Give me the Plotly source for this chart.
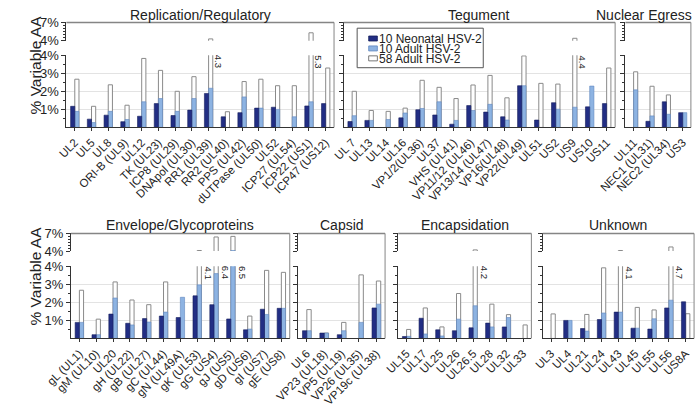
import plotly.graph_objects as go

W, H = 696, 412

# ---------------- data ----------------
rep_cats = ["UL2", "UL5", "UL8", "ORI-B (UL9)", "UL12", "TK (UL23)", "ICP8 (UL29)", "DNApol (UL30)",
            "RR1 (UL39)", "RR2 (UL40)", "PPS (UL42)", "dUTPase (UL50)", "UL52", "ICP27 (UL54)",
            "ICP22 (US1)", "ICP47 (US12)"]
rep_neo10 = [1.17, 0.46, 0.68, 0.32, 0.62, 1.32, 0.66, 0.96, 1.88, 0.59, 0.82, 1.07, 1.12, None, 1.19, 1.32]
rep_adult10 = [0.89, 0.27, 0.89, 0.44, 1.42, 1.60, 0.89, 1.60, 2.17, None, 1.69, 1.07, 1.00, 0.59, 1.42, None]
rep_adult58 = [2.67, 1.17, 2.36, 1.23, 3.82, 3.16, 2.00, 2.81, 4.3, 0.87, 2.54, 2.67, 2.31, 2.31, 5.3, 3.29]

teg_cats = ["UL 7", "UL13", "UL14", "UL16", "VP1/2(UL36)", "UL37", "VHS (UL41)", "VP11/12 (UL46)",
            "VP13/14 (UL47)", "VP16(UL48)", "VP22(UL49)", "UL51", "US2", "US9", "US10", "US11"]
teg_neo10 = [0.33, 0.39, None, 0.53, 0.98, 0.69, 0.18, 1.21, 0.85, 0.59, 2.31, 0.41, 1.37, None, 1.14, 1.32]
teg_adult10 = [0.65, 0.39, 0.44, 0.80, 1.05, 1.42, 0.39, 0.94, 1.28, 0.41, 2.31, None, 1.01, 1.12, 2.29, None]
teg_adult58 = [2.00, 0.94, 0.89, 1.07, 2.61, 2.22, 1.60, 2.35, 2.88, 1.64, 3.96, 2.44, 2.40, 4.4, None, 3.29]

ne_cats = ["UL11", "NEC1 (UL31)", "NEC2 (UL34)", "US3"]
ne_neo10 = [None, 0.34, 1.42, 0.82]
ne_adult10 = [2.08, 0.64, 0.73, 0.82]
ne_adult58 = [3.08, 2.28, 1.80, None]

env_cats = ["gL (UL1)", "gM (UL10)", "UL20", "gH (UL22)", "gB (UL27)", "gC (UL44)", "gN (UL49A)",
            "gK (UL53)", "gG (US4)", "gJ (US5)", "gD (US6)", "gI (US7)", "gE (US8)"]
env_neo10 = [0.89, 0.21, 1.35, 0.84, 1.10, 1.24, 1.16, 2.36, 1.87, 1.08, 0.48, 1.62, 1.67]
env_adult10 = [0.89, 0.21, 2.24, 0.75, 0.91, 1.46, 2.28, 2.97, 3.59, 4.1, 0.52, 1.33, 1.67]
env_adult58 = [2.67, 1.07, 3.13, 2.13, 1.87, 3.13, None, 4.1, 6.4, 6.5, 1.24, 3.77, 3.66]

cap_cats = ["UL6", "VP23 (UL18)", "VP5 (UL19)", "VP26 (UL35)", "VP19c (UL38)"]
cap_neo10 = [0.43, 0.30, 0.21, None, 1.69]
cap_adult10 = [0.43, 0.30, 0.43, 0.89, 1.90]
cap_adult58 = [1.60, 0.30, 0.89, 3.52, 3.18]

enc_cats = ["UL15", "UL17", "UL25", "UL26", "UL26.5", "UL28", "UL32", "UL33"]
enc_neo10 = [0.11, 1.12, 0.48, 0.43, 0.59, 0.85, 0.64, None]
enc_adult10 = [0.12, 0.25, 0.14, 1.07, 1.81, 0.64, 1.16, None]
enc_adult58 = [0.50, 1.69, 0.64, 2.49, 4.2, 1.90, 1.32, 0.75]

unk_cats = ["UL3", "UL4", "UL21", "UL24", "UL43", "UL45", "UL55", "UL56", "US8A"]
unk_neo10 = [None, 1.00, 0.55, 1.05, 1.46, 0.57, 0.52, 1.69, 2.03]
unk_adult10 = [None, 1.00, 0.41, 1.41, 1.46, 0.57, 1.09, 2.12, None]
unk_adult58 = [1.36, None, 1.33, 3.91, 4.1, 1.72, 1.58, 4.7, 1.37]

series_names = ["10 Neonatal HSV-2", "10 Adult HSV-2", "58 Adult HSV-2"]
y_ticks_low = [1, 2, 3, 4]
y_ticks_up = [4, 7]
BREAK = 4

# ---------------- styling ----------------
FONT = "Liberation Sans, Arial, sans-serif"
TXT = "#222222"
NAVY = "#222e84"
NAVY_LINE = "#151f5c"
LIGHT = "#8db3e2"
LIGHT_LINE = "#5f86bf"
WHITE_LINE = "#8a8a8a"
GRID = "#e3e3e3"
AXIS = "#333333"
FRAME = "#858585"
BW = 0.25

rows = [
    dict(top=16, up4=35, lo4=50, zero=125, title_y=8, lab_dx=0.56),
    dict(top=235, up4=253.3, lo4=269, zero=344, title_y=226, lab_dx=0.65),
]

panels = [
    dict(title="Replication/Regulatory", cats=rep_cats, neo=rep_neo10, a10=rep_adult10, a58=rep_adult58, row=0, x0=42, x1=320, first=True),
    dict(title="Tegument", cats=teg_cats, neo=teg_neo10, a10=teg_adult10, a58=teg_adult58, row=0, x0=330, x1=612, first=False),
    dict(title="Nuclear Egress", cats=ne_cats, neo=ne_neo10, a10=ne_adult10, a58=ne_adult58, row=0, x0=622.7, x1=690.7, first=False, title_right=694),
    dict(title="Envelope/Glycoproteins", cats=env_cats, neo=env_neo10, a10=env_adult10, a58=env_adult58, row=1, x0=46.7, x1=274, first=True),
    dict(title="Capsid", cats=cap_cats, neo=cap_neo10, a10=cap_adult10, a58=cap_adult58, row=1, x0=282.7, x1=373, first=False),
    dict(title="Encapsidation", cats=enc_cats, neo=enc_neo10, a10=enc_adult10, a58=enc_adult58, row=1, x0=386.7, x1=525, first=False),
    dict(title="Unknown", cats=unk_cats, neo=unk_neo10, a10=unk_adult10, a58=unk_adult58, row=1, x0=536.7, x1=694, first=False),
]


def px(v):
    return v / W


def py(v):
    return 1 - v / H


def above_break(vals):
    return [v if (v is not None and v > BREAK) else None for v in vals]


fig = go.Figure()
layout = {}
annotations = []
shapes = []

for i, p in enumerate(panels):
    r = rows[p["row"]]
    xn = i + 1
    yl = 2 * i + 1
    yu = 2 * i + 2
    xs = "x" if xn == 1 else f"x{xn}"
    yls = "y" if yl == 1 else f"y{yl}"
    yus = f"y{yu}"
    xkey = "xaxis" if xn == 1 else f"xaxis{xn}"
    ylkey = "yaxis" if yl == 1 else f"yaxis{yl}"
    yukey = f"yaxis{yu}"
    n = len(p["cats"])
    xpos = list(range(n))

    for ys, filt in ((yls, lambda v: v), (yus, above_break)):
        fig.add_bar(x=xpos, y=filt(p["a58"]), xaxis=xs, yaxis=ys, offset=0, width=BW,
                    marker=dict(color="white", line=dict(color=WHITE_LINE, width=1)),
                    name=series_names[2], showlegend=False, hoverinfo="skip")
        fig.add_bar(x=xpos, y=filt(p["a10"]), xaxis=xs, yaxis=ys, offset=0, width=BW,
                    marker=dict(color=LIGHT, line=dict(color=LIGHT_LINE, width=0.6)),
                    name=series_names[1], showlegend=False, hoverinfo="skip")
        fig.add_bar(x=xpos, y=filt(p["neo"]), xaxis=xs, yaxis=ys, offset=-BW, width=BW,
                    marker=dict(color=NAVY, line=dict(color=NAVY_LINE, width=0.6)),
                    name=series_names[0], showlegend=False, hoverinfo="skip")

    layout[xkey] = dict(domain=[px(p["x0"]), px(p["x1"])], anchor=yls, range=[-0.5, n - 0.5],
                        tickmode="array", tickvals=xpos, ticktext=p["cats"], tickangle=-45,
                        ticks="outside", ticklen=3, tickcolor=AXIS, showline=True, linecolor=AXIS,
                        linewidth=1, showgrid=False, zeroline=False, fixedrange=True,
                        tickfont=dict(family=FONT, size=11.5, color=TXT))
    layout[ylkey] = dict(domain=[py(r["zero"]), py(r["lo4"])], anchor=xs, range=[0, 4],
                         tickmode="array", tickvals=y_ticks_low, ticktext=[f"{v}%" for v in y_ticks_low],
                         showticklabels=p["first"], ticks="outside", ticklen=4, tickcolor=AXIS,
                         minor=dict(tickmode="array", tickvals=[0.5, 1.5, 2.5, 3.5], ticks="outside",
                                    ticklen=2, tickcolor=AXIS, showgrid=False),
                         showline=True, linecolor=AXIS, linewidth=1, showgrid=True, gridcolor=GRID,
                         gridwidth=1, zeroline=False, fixedrange=True,
                         tickfont=dict(family=FONT, size=13, color=TXT))
    layout[yukey] = dict(domain=[py(r["up4"]), py(r["top"])], anchor=xs, range=[4, 7],
                         tickmode="array", tickvals=y_ticks_up, ticktext=[f"{v}%" for v in y_ticks_up],
                         showticklabels=p["first"], ticks="outside", ticklen=4, tickcolor=AXIS,
                         minor=dict(tickmode="array", tickvals=[4.5, 5, 5.5, 6, 6.5], ticks="outside",
                                    ticklen=2, tickcolor=AXIS, showgrid=False),
                         showline=True, linecolor=AXIS, linewidth=1, showgrid=True, gridcolor=GRID,
                         gridwidth=1, zeroline=False, fixedrange=True,
                         tickfont=dict(family=FONT, size=13, color=TXT))

    # frame: top and right borders
    shapes.append(dict(type="line", xref="paper", yref="paper", x0=px(p["x0"]), x1=px(p["x1"]),
                       y0=py(r["top"]), y1=py(r["top"]), line=dict(color=FRAME, width=1.5)))
    shapes.append(dict(type="line", xref="paper", yref="paper", x0=px(p["x1"]), x1=px(p["x1"]),
                       y0=py(r["top"]), y1=py(r["zero"]), line=dict(color=FRAME, width=1)))

    # panel title
    if "title_right" in p:
        annotations.append(dict(text=p["title"], xref="paper", yref="paper", x=px(p["title_right"]),
                                y=py(r["title_y"]), xanchor="right", yanchor="middle", showarrow=False,
                                font=dict(family=FONT, size=14, color=TXT)))
    else:
        annotations.append(dict(text=p["title"], xref="paper", yref="paper",
                                x=px((p["x0"] + p["x1"]) / 2), y=py(r["title_y"]),
                                xanchor="center", yanchor="middle", showarrow=False,
                                font=dict(family=FONT, size=14, color=TXT)))

    # value labels for broken bars
    for k, v in enumerate(p["a58"]):
        if v is not None and v > BREAK:
            annotations.append(dict(text=f"{v:.1f}", xref=xs, yref=yls, x=k + r["lab_dx"], y=BREAK,
                                    xanchor="center", yanchor="top", yshift=1, textangle=90,
                                    showarrow=False, borderpad=0,
                                    font=dict(family=FONT, size=9.5, color=TXT)))

    if p["first"]:
        annotations.append(dict(text="% Variable AA", xref="paper", yref="paper", x=px(9.5),
                                y=py((r["top"] + r["zero"]) / 2 - 10), xanchor="center", yanchor="middle",
                                textangle=-90, showarrow=False,
                                font=dict(family=FONT, size=15.5, color=TXT)))

# ---------------- legend (drawn manually) ----------------
lx0, lx1, ly0, ly1 = 344, 475, 22, 63
shapes.append(dict(type="rect", xref="paper", yref="paper", x0=px(lx0), x1=px(lx1), y0=py(ly0), y1=py(ly1),
                   line=dict(color="#555555", width=1), fillcolor="white", layer="above"))
leg_colors = [(NAVY, NAVY_LINE), (LIGHT, LIGHT_LINE), ("white", "#555555")]
leg_rows = [32.7, 43.0, 53.3]
for j, name in enumerate(series_names):
    cy = leg_rows[j]
    fc, lc = leg_colors[j]
    shapes.append(dict(type="rect", xref="paper", yref="paper", x0=px(356), x1=px(365),
                       y0=py(cy - 2.6), y1=py(cy + 2.6), line=dict(color=lc, width=0.8), fillcolor=fc,
                       layer="above"))
    annotations.append(dict(text=name, xref="paper", yref="paper", x=px(365.5), y=py(cy + 0.3),
                            xanchor="left", yanchor="middle", showarrow=False, borderpad=0,
                            font=dict(family=FONT, size=12, color=TXT)))

fig.update_layout(**layout)
fig.update_layout(
    width=W, height=H, margin=dict(l=0, r=0, t=0, b=0),
    paper_bgcolor="white", plot_bgcolor="white",
    barmode="overlay", showlegend=False,
    annotations=annotations, shapes=shapes,
    font=dict(family=FONT, color=TXT),
)

fig.write_html("out.html", config={"displayModeBar": False},
               post_script="document.body.style.margin='0px';")
